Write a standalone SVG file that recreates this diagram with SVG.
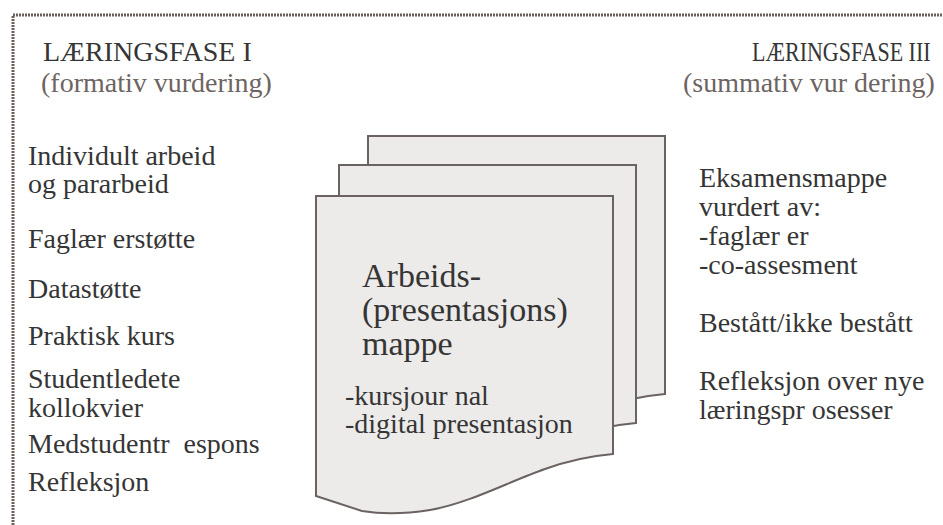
<svg xmlns="http://www.w3.org/2000/svg" xmlns:xlink="http://www.w3.org/1999/xlink" width="943" height="525" viewBox="0 0 943 525">
<style>
text{font-family:"Liberation Serif","DejaVu Serif","Times New Roman",serif;font-size:28px;fill:#353535}
.sub{fill:#6e6462}
.big{font-size:34px}
.doc{fill:#ecebe9;stroke:#6b6361;stroke-width:2}
.frame{fill:none;stroke:#6b5f5b;stroke-width:3;stroke-dasharray:2 1}
</style>
<defs>
<path id="docshape" d="M316,196 H613 V454 C590,456 570,460 545,469 C510,481 470,503 430,510 C405,514 380,514 362,511 L316,496 Z"/>
</defs>
<path class="frame" d="M13,525 V15 H943"/>
<g id="documents">
<use xlink:href="#docshape" class="doc" transform="translate(52,-60)"/>
<use xlink:href="#docshape" class="doc" transform="translate(23,-31)"/>
<use xlink:href="#docshape" class="doc"/>
</g>
<g id="phase1">
<text x="43" y="61">LÆRINGSFASE I</text>
<text class="sub" x="41" y="92">(formativ vurdering)</text>
</g>
<g id="phase1-list">
<text x="28" y="165">Individult arbeid</text>
<text x="28" y="193">og pararbeid</text>
<text x="28" y="248">Faglær erstøtte</text>
<text x="28" y="298">Datastøtte</text>
<text x="28" y="345">Praktisk kurs</text>
<text x="28" y="388">Studentledete</text>
<text x="28" y="417">kollokvier</text>
<text x="28" y="453" xml:space="preserve">Medstudentr  espons</text>
<text x="28" y="491">Refleksjon</text>
</g>
<g id="portfolio">
<text class="big" x="362" y="287">Arbeids-</text>
<text class="big" x="362" y="321">(presentasjons)</text>
<text class="big" x="362" y="355">mappe</text>
<text x="345" y="405">-kursjour nal</text>
<text x="345" y="433">-digital presentasjon</text>
</g>
<g id="phase3">
<text transform="translate(752,61) scale(1,1.2)" style="font-size:22px">LÆRINGSFASE III</text>
<text class="sub" x="683" y="92">(summativ vur dering)</text>
</g>
<g id="phase3-list">
<text x="699" y="187">Eksamensmappe</text>
<text x="699" y="216">vurdert av:</text>
<text x="699" y="245">-faglær er</text>
<text x="699" y="274">-co-assesment</text>
<text x="699" y="332">Bestått/ikke bestått</text>
<text x="699" y="390">Refleksjon over nye</text>
<text x="699" y="419">læringspr osesser</text>
</g>
</svg>
